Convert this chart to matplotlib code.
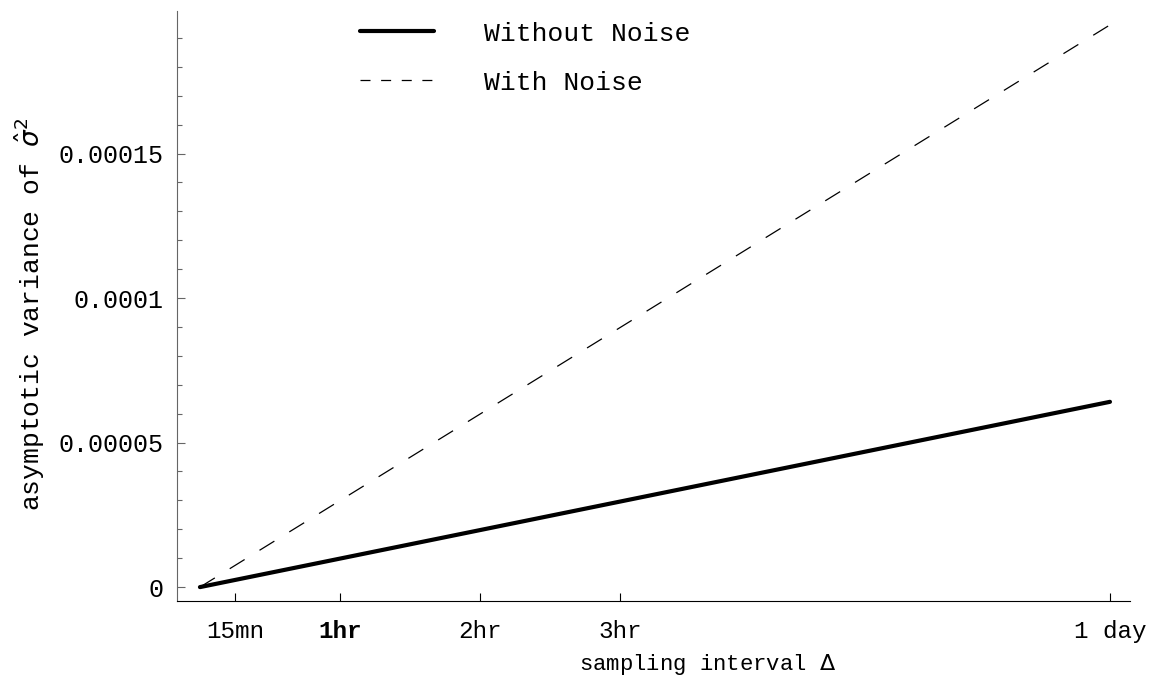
import matplotlib
matplotlib.use("Agg")
from matplotlib import pyplot as plt
from matplotlib.lines import Line2D
from matplotlib.ticker import MultipleLocator

# sampling interval in hours (1 day = 6.5 trading hours)
delta_hr = [0.0, 6.5]
var_without_noise = [0.0, 6.41e-05]
var_with_noise = [0.0, 1.945e-04]

xtick_pos = [0.25, 1, 2, 3, 6.5]
xtick_labels = ["15mn", "1hr", "2hr", "3hr", "1 day"]
ytick_pos = [0, 0.00005, 0.0001, 0.00015]
ytick_labels = ["0", "0.00005", "0.0001", "0.00015"]

plt.rcParams['font.family'] = ['Liberation Mono', 'DejaVu Sans Mono']
plt.rcParams['mathtext.fontset'] = 'dejavusans'

fig = plt.figure(figsize=(11.56, 6.81), dpi=100)
ax = fig.add_axes([0.1531, 0.1175, 0.8244, 0.8663])

ax.plot(delta_hr, var_without_noise, color="black", lw=3.0, solid_capstyle="round")
ax.plot(delta_hr, var_with_noise, color="black", lw=0.9, dashes=(14, 14))

ax.set_xlim(-0.164, 6.643)
ax.set_ylim(-4.8e-06, 0.0001993)

ax.spines["top"].set_visible(False)
ax.spines["right"].set_visible(False)
ax.spines["left"].set_color("#666666")
ax.spines["bottom"].set_color("black")

ax.set_xticks(xtick_pos)
ax.set_xticklabels(xtick_labels, fontsize=17.5)
ax.get_xticklabels()[1].set_fontweight("bold")
ax.set_yticks(ytick_pos)
ax.set_yticklabels(ytick_labels, fontsize=18)
ax.yaxis.set_minor_locator(MultipleLocator(0.00001))

ax.tick_params(axis="x", direction="in", length=6, width=0.8, pad=14, color="black")
ax.tick_params(axis="y", which="major", direction="in", length=6, width=0.8, pad=10, color="#666666")
ax.tick_params(axis="y", which="minor", direction="in", length=3.5, width=0.8, color="#666666")

ax.set_xlabel("sampling interval $\\Delta$", fontsize=16)
ax.xaxis.set_label_coords(0.557, -0.086)
ax.set_ylabel("asymptotic variance of $\\hat{\\sigma}^2$", fontsize=19)
ax.yaxis.label.set_va("center")
ax.yaxis.set_label_coords(-0.154, 0.485)

handles = [Line2D([], [], color="black", lw=3.0, solid_capstyle="round"),
           Line2D([], [], color="black", lw=0.9, dashes=(8, 8.5))]
ax.legend(handles, ["Without Noise", "With Noise"], loc="upper left",
          bbox_to_anchor=(0.192, 0.982), frameon=False, fontsize=19,
          handlelength=2.8, handletextpad=1.9, labelspacing=0.95,
          borderpad=0, borderaxespad=0)

fig.savefig("out.png", dpi=100)
